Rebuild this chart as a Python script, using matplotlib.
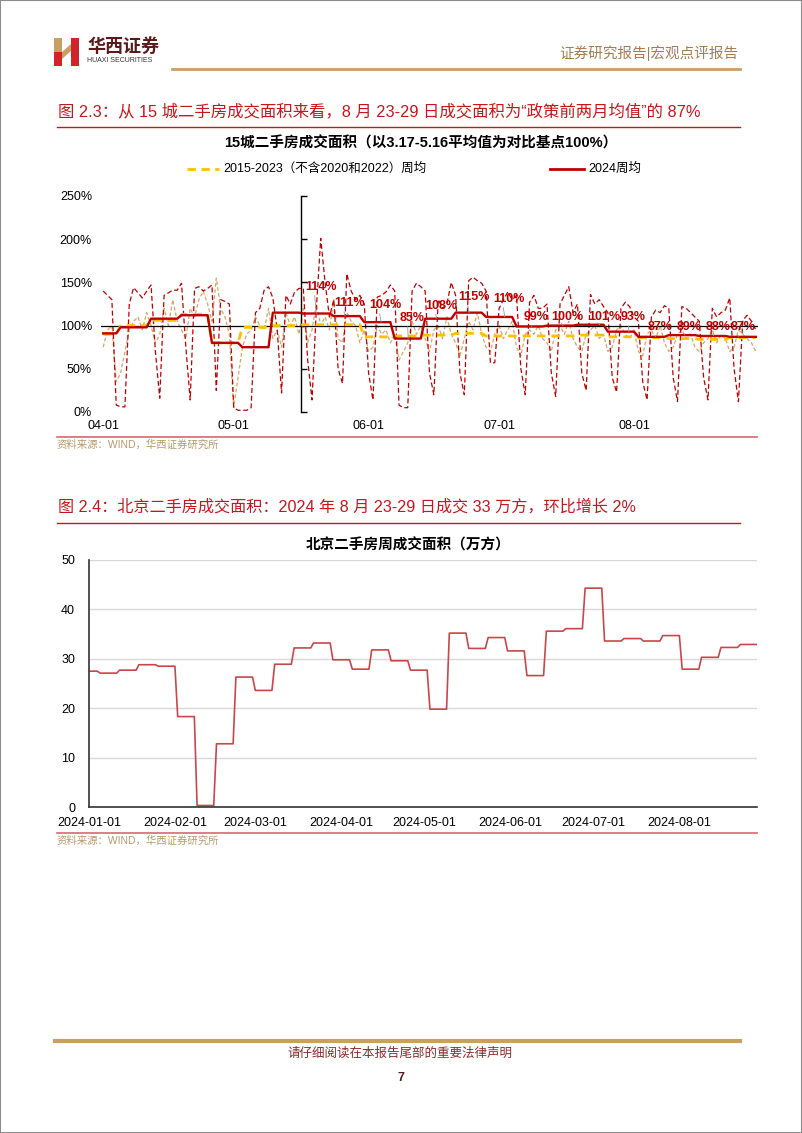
import matplotlib
matplotlib.use('Agg')
import matplotlib.pyplot as plt
import matplotlib.dates as mdates
from matplotlib.lines import Line2D
from matplotlib.patches import Rectangle, Polygon
import pandas as pd

plt.rcParams['font.family'] = ['Liberation Sans', 'Noto Sans CJK SC']
plt.rcParams['axes.unicode_minus'] = False

# ---------------- 数据：15城二手房成交面积（2024-04-01 ~ 2024-08-29，日度） ----------------
dias_ini, dias_fin = '2024-04-01', '2024-08-29'

diario_2024 = [
    140, 135, 130, 8, 6, 6, 125,
    144, 138, 132, 140, 147, 70, 16,
    135, 138, 141, 141, 149, 75, 14,
    143, 145, 140, 143, 147, 25, 130,
    128, 125, 5, 2, 2, 2, 5,
    115, 120, 141, 145, 132, 95, 22,
    135, 125, 139, 143, 143, 60, 14,
    120, 201, 150, 110, 130, 50, 33,
    160, 140, 130, 135, 125, 45, 14,
    133, 135, 139, 147, 140, 8, 5,
    5, 140, 149, 145, 140, 45, 20,
    130, 120, 125, 150, 135, 45, 20,
    152, 156, 152, 149, 140, 57, 57,
    120, 130, 139, 130, 135, 50, 20,
    127, 135, 120, 120, 125, 45, 18,
    125, 135, 145, 115, 125, 45, 25,
    136, 125, 130, 122, 115, 40, 23,
    120, 127, 122, 110, 105, 35, 14,
    110, 118, 115, 123, 120, 40, 12,
    122, 120, 115, 110, 105, 40, 14,
    120, 110, 115, 118, 132, 50, 12,
    106, 112, 105, 95,
]

diario_hist = [
    75, 95, 100, 35, 45, 70, 95,
    105, 110, 95, 115, 100, 80, 90,
    120, 100, 130, 105, 95, 85, 120,
    110, 130, 140, 125, 105, 155, 120,
    110, 90, 5, 40, 75, 90, 95,
    110, 100, 95, 120, 85, 95, 75,
    115, 100, 110, 90, 120, 80, 95,
    125, 100, 110, 95, 130, 85, 80,
    115, 105, 100, 80, 95, 70, 75,
    100, 90, 95, 80, 90, 60, 70,
    80, 105, 90, 100, 85, 70, 95,
    100, 85, 110, 90, 80, 65, 85,
    105, 95, 115, 90, 75, 70, 90,
    100, 85, 95, 105, 75, 65, 90,
    95, 90, 100, 85, 80, 70, 95,
    100, 90, 105, 85, 75, 70, 90,
    95, 100, 85, 90, 70, 75, 95,
    100, 90, 85, 95, 70, 65, 90,
    95, 85, 100, 80, 70, 75, 90,
    95, 85, 90, 75, 70, 80, 85,
    95, 80, 90, 85, 70, 75, 95,
    90, 85, 80, 70,
]

# 周均（周五至周四），第一周从 3/29 开始
semanas_ini = '2024-03-29'
semanal_2024 = [91, 98, 108, 112, 80, 75, 115, 114, 111, 104, 85, 108, 115, 110,
                99, 100, 101, 93, 87, 89, 88, 87]
semanal_hist = [90, 100, 106, 113, 80, 98, 100, 101, 101, 87, 88, 89, 91, 88,
                88, 88, 89, 87, 86, 85, 84, 86]

# 政策后（5.17 起）的数据标签位置（相对周起始日的天数、纵坐标）
etiquetas_desde = 7
etiquetas_dx = [4, 3.6, 4.9, 4.1, 3.7, 4.1, 5.3, 4.5, 4.7, 6.1, 5.8, 5, 4.6, 4.3, 3]
etiquetas_y = [145, 126, 124, 109, 123, 133, 131, 110, 110, 110, 110, 98, 98, 98, 98]

ticks_1 = ['2024-04-01', '2024-05-01', '2024-06-01', '2024-07-01', '2024-08-01']

# ---------------- 数据：北京二手房周成交面积（万方） ----------------
bj_semanas_ini = '2023-12-29'
bj_semanal = [27.5, 27.1, 27.7, 28.8, 28.5, 18.3, 0.3, 12.8, 26.3, 23.6,
              28.9, 32.2, 33.2, 29.8, 27.9, 31.8, 29.6, 27.7, 19.8, 35.2,
              32.1, 34.3, 31.6, 26.6, 35.6, 36.1, 44.3, 33.6, 34.1, 33.6,
              34.7, 27.9, 30.3, 32.3, 32.9]
ticks_2 = ['2024-01-01', '2024-02-01', '2024-03-01', '2024-04-01',
           '2024-05-01', '2024-06-01', '2024-07-01', '2024-08-01']

# ---------------- 页面 ----------------
W, H = 802, 1133
def fx(x):
    return x / W
def fy(y):
    return 1 - y / H

ROJO = '#C00000'
ROJO_TIT = '#C8161D'
ORO = '#C9A063'
TAN = '#D9A66A'
AMARILLO = '#FFC000'
FUENTE = '#B89A6A'

fig = plt.figure(figsize=(W / 100, H / 100), dpi=100)
fig.add_artist(Rectangle((0, 0), 1, 1, transform=fig.transFigure, fill=False,
                         edgecolor='#8c8c8c', lw=1.5))

# 页眉：logo
logo = [
    ([(54, 38), (62, 38), (62, 52), (54, 52)], ORO),
    ([(54, 52), (62, 52), (62, 66), (54, 66)], '#D2232A'),
    ([(71, 38), (79, 38), (79, 66), (71, 66)], '#D2232A'),
    ([(62, 52), (71, 44), (71, 51), (62, 59)], ORO),
]
for pts, c in logo:
    fig.add_artist(Polygon([(fx(a), fy(b)) for a, b in pts], closed=True,
                           transform=fig.transFigure, facecolor=c, edgecolor='none'))
fig.text(fx(87), fy(47), '华西证券', fontsize=13, fontweight='bold', color='#5A1A1A',
         va='center', ha='left')
fig.text(fx(87), fy(61), 'HUAXI SECURITIES', fontsize=5, color='#333333', va='center', ha='left')
fig.text(fx(738), fy(53), '证券研究报告|宏观点评报告', fontsize=10.5, color='#A67C52',
         va='center', ha='right')
fig.add_artist(Line2D([fx(172), fx(740)], [fy(69), fy(69)], color=ORO, lw=2))

# ---------------- 图 2.3 ----------------
fig.text(fx(58), fy(111), '图 2.3：从 15 城二手房成交面积来看，8 月 23-29 日成交面积为“政策前两月均值”的 87%',
         fontsize=11.8, color=ROJO_TIT, va='center', ha='left')
fig.add_artist(Line2D([fx(57), fx(740)], [fy(127), fy(127)], color=ROJO_TIT, lw=1))
fig.text(fx(421), fy(143), '15城二手房成交面积（以3.17-5.16平均值为对比基点100%）',
         fontsize=10.5, fontweight='bold', color='black', va='center', ha='center')

# 图例
fig.add_artist(Line2D([fx(187), fx(219)], [fy(169), fy(169)], color=AMARILLO, lw=2,
                      dashes=(3, 2)))
fig.text(fx(223), fy(169), '2015-2023（不含2020和2022）周均', fontsize=9, va='center', ha='left')
fig.add_artist(Line2D([fx(550), fx(584)], [fy(169), fy(169)], color=ROJO, lw=2))
fig.text(fx(588), fy(169), '2024周均', fontsize=9, va='center', ha='left')

fechas = pd.date_range(dias_ini, dias_fin, freq='D')
s_2024 = pd.Series(diario_2024, index=fechas)
s_hist = pd.Series(diario_hist, index=fechas)

ini_sem = pd.date_range(semanas_ini, periods=len(semanal_2024), freq='7D')
w_2024 = pd.Series(semanal_2024, index=ini_sem).reindex(
    pd.date_range(semanas_ini, dias_fin, freq='D'), method='ffill').loc[dias_ini:]
w_hist = pd.Series(semanal_hist, index=ini_sem).reindex(
    pd.date_range(semanas_ini, dias_fin, freq='D'), method='ffill').loc[dias_ini:]

ax = fig.add_axes([fx(101), fy(412), fx(758) - fx(101), fy(196) - fy(412)])
ax.plot(s_hist.index, s_hist.values, color=TAN, lw=0.9, dashes=(3, 1.8), zorder=2)
ax.plot(s_2024.index, s_2024.values, color=ROJO, lw=0.9, dashes=(4, 2.2), zorder=3)
ax.axhline(100, color='black', lw=0.9, zorder=4)
ax.plot(w_hist.index, w_hist.values, color=AMARILLO, lw=2.0, dashes=(3, 2.2), zorder=5)
ax.plot(w_2024.index, w_2024.values, color=ROJO, lw=1.7, zorder=6)

for i, (v, dx, ly) in enumerate(zip(semanal_2024[etiquetas_desde:], etiquetas_dx, etiquetas_y)):
    d0 = ini_sem[etiquetas_desde + i]
    ax.annotate(f'{v}%', xy=(d0 + pd.Timedelta(days=dx - 1), v),
                xytext=(d0 + pd.Timedelta(days=dx), ly),
                ha='center', va='center', fontsize=9, fontweight='bold', color=ROJO,
                zorder=8,
                arrowprops=dict(arrowstyle='-', color='#9a9a9a', lw=0.6,
                                relpos=(0.3, 0.0), shrinkA=0, shrinkB=0))

ax.set_xlim(pd.Timestamp('2024-03-31 12:00'), pd.Timestamp('2024-08-29 12:00'))
ax.set_ylim(0, 250)
ax.set_yticks([0, 50, 100, 150, 200, 250])
ax.yaxis.set_major_formatter(plt.FuncFormatter(lambda v, p: f'{int(v)}%'))
ax.set_xticks(pd.to_datetime(ticks_1))
ax.xaxis.set_major_formatter(mdates.DateFormatter('%m-%d'))
for lado in ['left', 'top', 'bottom']:
    ax.spines[lado].set_visible(False)
ax.spines['right'].set_position(('data', mdates.date2num(pd.Timestamp('2024-05-16 12:00'))))
ax.spines['right'].set_color('black')
ax.spines['right'].set_linewidth(1)
ax.tick_params(axis='y', left=False, right=True, labelleft=True, labelright=False,
               direction='out', length=4, width=1, pad=2.5, labelsize=9)
ax.tick_params(axis='x', length=0, pad=6, labelsize=9)
ax.patch.set_alpha(0)

fig.add_artist(Line2D([fx(57), fx(757)], [fy(437), fy(437)], color='#D9666F', lw=1.2))
fig.text(fx(57), fy(445), '资料来源：WIND，华西证券研究所', fontsize=7.5, color=FUENTE,
         va='center', ha='left')

# ---------------- 图 2.4 ----------------
fig.text(fx(58), fy(507), '图 2.4：北京二手房成交面积：2024 年 8 月 23-29 日成交 33 万方，环比增长 2%',
         fontsize=11.6, color=ROJO_TIT, va='center', ha='left')
fig.add_artist(Line2D([fx(57), fx(740)], [fy(523), fy(523)], color=ROJO_TIT, lw=1))
fig.text(fx(408), fy(545), '北京二手房周成交面积（万方）', fontsize=10.5, fontweight='bold',
         color='black', va='center', ha='center')

bj_ini = pd.date_range(bj_semanas_ini, periods=len(bj_semanal), freq='7D')
bj_diario = pd.Series(bj_semanal, index=bj_ini).reindex(
    pd.date_range(bj_semanas_ini, '2024-08-29', freq='D'), method='ffill').loc['2024-01-01':]

ax2 = fig.add_axes([fx(89), fy(807), fx(757) - fx(89), fy(560) - fy(807)])
ax2.plot(bj_diario.index, bj_diario.values, color='#C8474A', lw=1.2)
ax2.set_xlim(pd.Timestamp('2024-01-01'), pd.Timestamp('2024-08-29'))
ax2.set_ylim(0, 50)
ax2.set_yticks([0, 10, 20, 30, 40, 50])
ax2.set_xticks(pd.to_datetime(ticks_2))
ax2.xaxis.set_major_formatter(mdates.DateFormatter('%Y-%m-%d'))
ax2.grid(axis='y', color='#D9D9D9', lw=1)
ax2.set_axisbelow(True)
for lado in ['top', 'right']:
    ax2.spines[lado].set_visible(False)
for lado in ['left', 'bottom']:
    ax2.spines[lado].set_color('#333333')
    ax2.spines[lado].set_linewidth(1.2)
ax2.tick_params(axis='both', length=0, labelsize=9)
ax2.tick_params(axis='y', pad=10)
ax2.tick_params(axis='x', pad=7)

fig.add_artist(Line2D([fx(57), fx(757)], [fy(833), fy(833)], color='#D9666F', lw=1.2))
fig.text(fx(57), fy(841), '资料来源：WIND，华西证券研究所', fontsize=7.5, color=FUENTE,
         va='center', ha='left')

# ---------------- 页脚 ----------------
fig.add_artist(Line2D([fx(55), fx(740)], [fy(1041), fy(1041)], color=ORO, lw=3))
fig.text(fx(400), fy(1054), '请仔细阅读在本报告尾部的重要法律声明', fontsize=9, color='#8B2A2A',
         va='center', ha='center')
fig.text(fx(401), fy(1078), '7', fontsize=9, fontweight='bold', color='#4A2020',
         va='center', ha='center')

fig.savefig('out.png', dpi=100)
